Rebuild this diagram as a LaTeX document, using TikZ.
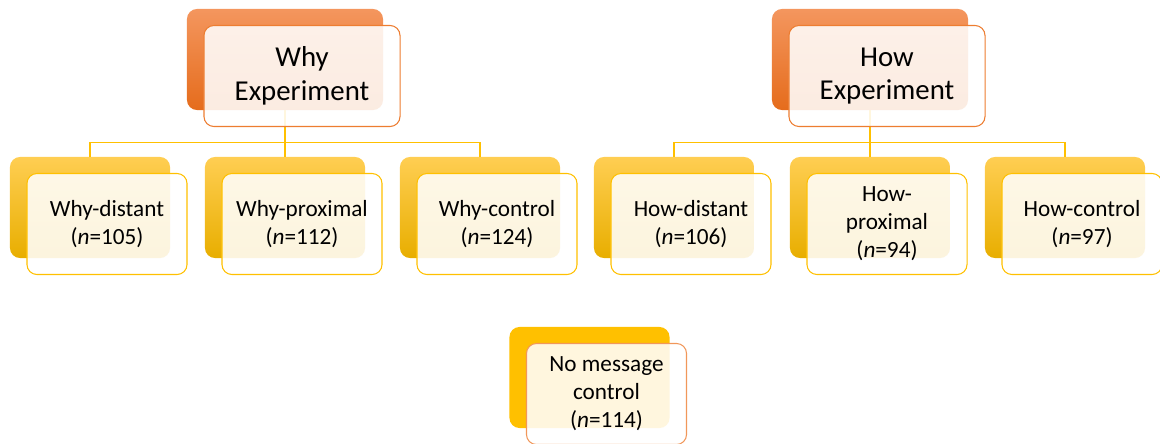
\documentclass[tikz,border=0pt]{standalone}
\usepackage{fontspec}
\setmainfont{Carlito}
\usetikzlibrary{positioning, calc}
\definecolor{exorange}{RGB}{237,125,49}
\definecolor{exorangelt}{RGB}{244,150,94}
\definecolor{exorangedk}{RGB}{229,108,28}
\definecolor{exgold}{RGB}{255,192,0}
\definecolor{exgoldlt}{RGB}{255,206,82}
\definecolor{exgolddk}{RGB}{232,174,0}

\tikzset{
  topback/.style={rounded corners=0.25cm, minimum width=4.9cm, minimum height=2.525cm,
    top color=exorangelt, bottom color=exorangedk},
  subback/.style={rounded corners=0.25cm, minimum width=4cm, minimum height=2.525cm,
    top color=exgoldlt, middle color=exgold, bottom color=exgolddk},
  topfront/.style={rounded corners=0.25cm, minimum width=4.9cm, minimum height=2.525cm,
    draw=exorange, line width=0.75pt, fill=white, fill opacity=0.87, text opacity=1,
    align=center, font=\fontsize{20.5}{24}\selectfont},
  subfront/.style={rounded corners=0.25cm, minimum width=4cm, minimum height=2.525cm,
    draw=exgold, line width=0.75pt, fill=white, fill opacity=0.87, text opacity=1,
    align=center, font=\fontsize{16.5}{20}\selectfont},
  link/.style={draw=exgold, line width=0.75pt}
}

\begin{document}
\begin{tikzpicture}[x=0.025cm, y=0.025cm]
  \useasboundingbox (0,0) rectangle (1160,443);

  % --- Back boxes ---
  \node[topback] (whyB) at (285,383.5) {};
  \node[topback] (howB) at (870,383.5) {};
  \node[subback] (wdB) at (90,235.5) {};
  \node[subback] (wpB) at (285,235.5) {};
  \node[subback] (wcB) at (480,235.5) {};
  \node[subback] (hdB) at (674,235.5) {};
  \node[subback] (hpB) at (870,235.5) {};
  \node[subback] (hcB) at (1065,235.5) {};
  \node[subback, top color=exgold, middle color=exgold, bottom color=exgold] (noB) at (589.5,65.5) {};

  % --- Connectors ---
  \foreach \kid in {wdB, wpB, wcB}
    \draw[link] (whyB.south) |- ($(\kid.north)+(0,14)$) -- (\kid.north);
  \foreach \kid in {hdB, hpB, hcB}
    \draw[link] (howB.south) |- ($(\kid.north)+(0,14)$) -- (\kid.north);

  % --- Front boxes ---
  \node[topfront] (why) at ($(whyB.center)+(17,-16.5)$) {Why\\Experiment};
  \node[topfront] (how) at ($(howB.center)+(17,-16.5)$) {How\\Experiment};
  \node[subfront] (wd) at ($(wdB.center)+(17,-16.5)$) {Why-distant\\(\textit{n}=105)};
  \node[subfront] (wp) at ($(wpB.center)+(17,-16.5)$) {Why-proximal\\(\textit{n}=112)};
  \node[subfront] (wc) at ($(wcB.center)+(17,-16.5)$) {Why-control\\(\textit{n}=124)};
  \node[subfront] (hd) at ($(hdB.center)+(17,-16.5)$) {How-distant\\(\textit{n}=106)};
  \node[subfront] (hp) at ($(hpB.center)+(17,-16.5)$) {How-\\proximal\\(\textit{n}=94)};
  \node[subfront] (hc) at ($(hcB.center)+(17,-16.5)$) {How-control\\(\textit{n}=97)};
  \node[subfront, draw=exorange!80] (no) at ($(noB.center)+(17,-16.5)$) {No message\\control\\(\textit{n}=114)};
\end{tikzpicture}
\end{document}
